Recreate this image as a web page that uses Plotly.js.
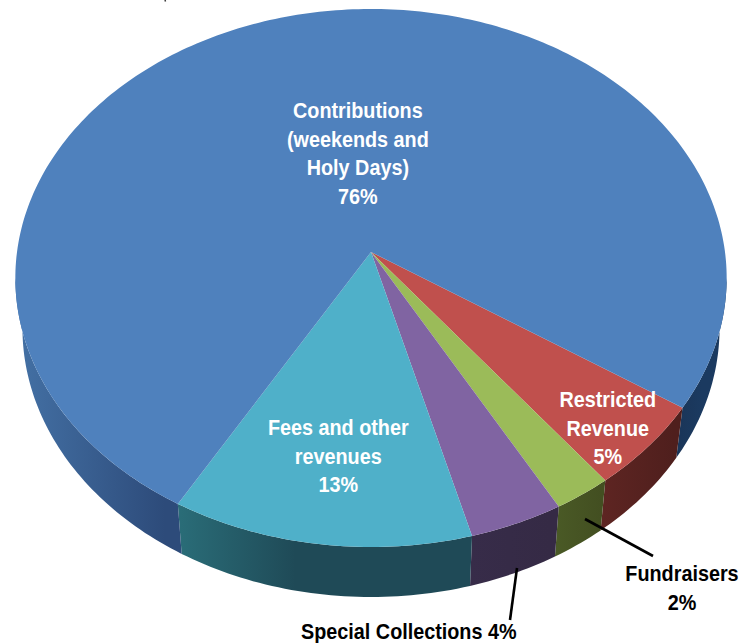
<!DOCTYPE html>
<html><head><meta charset="utf-8">
<script src="https://cdn.plot.ly/plotly-3.0.1.min.js"></script>
<style>html,body{margin:0;padding:0;background:#fff}#c{width:751px;height:643px}</style>
</head><body><div id="c"></div>
<script>
const categories = ["Restricted Revenue","Fundraisers","Special Collections","Fees and other revenues","Contributions (weekends and Holy Days)"];
const shares = [5.2,2.4,3.9,12.5,76.0];
const topColors = ["#c0504d","#9bbb59","#8064a2","#4fb0c9","#4f81bd"];
const wallLeft = ["#5e2522","#4a5a26","#372c49","#2a6d78","#4471a5"];
const wallRight = ["#4f1f1d","#434f21","#352a45","#1f4a57","#2d4b7a"];
const wallMid = [0.9,0.9,0.9,0.4,0.9];

const labels = ["Contributions<br>(weekends and<br>Holy Days)<br>76%","Fees and other<br>revenues<br>13%","Restricted<br>Revenue<br>5%"];
const labelX = [358,338,608];
const labelY = [153,456,428];
const outerLabels = ["Fundraisers<br>2%","Special Collections 4%"];
const outerX = [682,409];
const outerY = [588,631];
const leaderX = [[585,653],[517,510]];
const leaderY = [[519,556],[568,620]];

// projected tilted disc
const cx=371, cy=252, R=354, S=266.5, k=0.0967, depth=50, shrink=0.98, startDeg=33.6;
function proj(deg,lower){
  const t=deg*Math.PI/180, u=Math.cos(t), v=Math.sin(t), w=1-k*v;
  const f=lower?shrink:1;
  return [cx+f*R*u/w, cy+S*v/w+(lower?depth:0)];
}
function arc(a,b,lower){
  const n=Math.max(2,Math.ceil(Math.abs(b-a))), xs=[], ys=[];
  for(let i=0;i<=n;i++){const p=proj(a+(b-a)*i/n,lower);xs.push(p[0]);ys.push(p[1]);}
  return [xs,ys];
}
function wall(a,b,l,r,m){
  const A=arc(a,b,false), B=arc(b,a,true);
  return {type:"scatter",mode:"none",fill:"toself",x:A[0].concat(B[0]),y:A[1].concat(B[1]),hoverinfo:"skip",
    fillgradient:{type:"horizontal",colorscale:[[0,l],[m,r],[1,r]]},fillcolor:l};
}
const total=shares.reduce((a,b)=>a+b,0);
const walls=[], tops=[];
let ang=startDeg;
const widest=Math.asin(k)*180/Math.PI;
walls.push(wall(widest,startDeg,"#1a3558","#1b3a60",0.5));
shares.forEach((s,i)=>{
  const end=ang+s/total*360;
  if(i<shares.length-1){
    walls.push(wall(ang,end,wallLeft[i],wallRight[i],wallMid[i]));
  } else {
    walls.push(wall(ang,180-widest,wallLeft[i],wallRight[i],wallMid[i]));
  }
  const A=arc(ang,end,false);
  tops.push({type:"scatter",mode:"none",fill:"toself",name:categories[i],
    x:[cx].concat(A[0],[cx]),y:[cy].concat(A[1],[cy]),fillcolor:topColors[i],hoverinfo:"name"});
  ang=end;
});
const leaders=leaderX.map((x,i)=>({type:"scatter",mode:"lines",x:x,y:leaderY[i],line:{color:"#000",width:2.6},hoverinfo:"skip"}));
const speck={type:"scatter",mode:"lines",x:[165,165.5],y:[0,1.5],line:{color:"#333",width:1.5},hoverinfo:"skip"};
const font={family:"'Liberation Sans',Arial,sans-serif",size:22,weight:700};
const ann=labels.map((t,i)=>({text:t,x:labelX[i],y:labelY[i],xref:"x",yref:"y",showarrow:false,align:"center",font:Object.assign({},font,{color:"#fff"})}))
 .concat(outerLabels.map((t,i)=>({text:t,x:outerX[i],y:outerY[i],xref:"x",yref:"y",showarrow:false,align:"center",font:Object.assign({},font,{color:"#000"})})));
Plotly.newPlot("c",walls.concat(tops,leaders,[speck]),{
  width:751,height:643,margin:{l:0,r:0,t:0,b:0},showlegend:false,paper_bgcolor:"#fff",plot_bgcolor:"#fff",
  xaxis:{range:[0,751],visible:false,fixedrange:true},
  yaxis:{range:[643,0],visible:false,fixedrange:true},
  annotations:ann
},{displayModeBar:false,staticPlot:true}).then(gd=>{
  // the reference lettering is a condensed bold; no narrow face is installed, so condense horizontally
  gd.querySelectorAll(".annotation-text").forEach(t=>{
    const b=t.getBBox(), mid=b.x+b.width/2, old=t.getAttribute("transform")||"";
    t.setAttribute("transform",`translate(${mid},0) scale(0.9,1) translate(${-mid},0) ${old}`);
  });
});
</script></body></html>
